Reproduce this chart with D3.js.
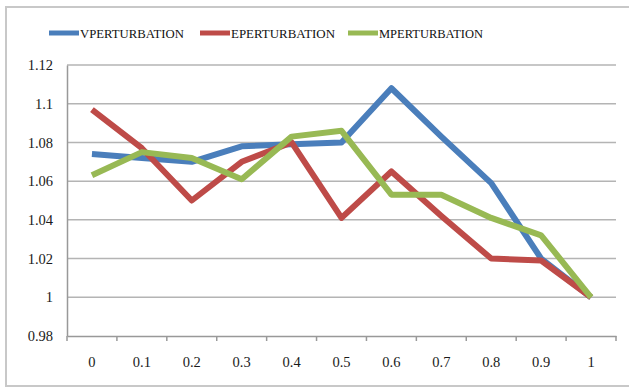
<!DOCTYPE html>
<html>
<head>
<meta charset="utf-8">
<script src="https://cdn.jsdelivr.net/npm/d3@7"></script>
<style>
  body { margin: 0; background: #fff; }
</style>
</head>
<body>
<div id="chart"></div>
<script>
const categories = ["0", "0.1", "0.2", "0.3", "0.4", "0.5", "0.6", "0.7", "0.8", "0.9", "1"];
const vPerturbation = [1.074, 1.072, 1.070, 1.078, 1.079, 1.080, 1.108, 1.083, 1.059, 1.020, 1.000];
const ePerturbation = [1.097, 1.077, 1.050, 1.070, 1.080, 1.041, 1.065, 1.042, 1.020, 1.019, 1.000];
const mPerturbation = [1.063, 1.075, 1.072, 1.061, 1.083, 1.086, 1.053, 1.053, 1.041, 1.032, 1.000];
const yTicks = [0.98, 1, 1.02, 1.04, 1.06, 1.08, 1.1, 1.12];
const seriesNames = ["VPERTURBATION", "EPERTURBATION", "MPERTURBATION"];
const colors = ["#4a7ebb", "#be4b48", "#98b954"];

(function chart(){
  const width = 629, height = 387;
  const margin = {top: 65, right: 13, bottom: 51, left: 67};
  const serif = "'Liberation Serif'";

  const svg = d3.select("#chart")
    .append("svg")
    .attr("width", width)
    .attr("height", height);

  // outer frame
  svg.append("rect")
    .attr("x", 6).attr("y", 7)
    .attr("width", width).attr("height", height - 8)
    .attr("fill", "none")
    .attr("stroke", "#c8c8c8")
    .attr("stroke-width", 2);

  const x = d3.scaleBand()
    .domain(categories)
    .range([margin.left, width - margin.right]);

  const y = d3.scaleLinear()
    .domain([0.98, 1.12])
    .range([height - margin.bottom, margin.top]);

  // gridlines
  svg.append("g")
    .selectAll("line")
    .data(yTicks.slice(1))
    .join("line")
    .attr("x1", margin.left)
    .attr("x2", width - margin.right)
    .attr("y1", d => y(d))
    .attr("y2", d => y(d))
    .attr("stroke", "#b4b4b4")
    .attr("stroke-width", 1.5);

  // y axis
  const yAxis = svg.append("g")
    .attr("transform", `translate(${margin.left},0)`)
    .call(d3.axisLeft(y).tickValues(yTicks).tickSize(0).tickPadding(14)
      .tickFormat(d => d3.format("")(+d.toFixed(2))));
  yAxis.select(".domain").attr("stroke", "#999").attr("stroke-width", 1.5);
  yAxis.selectAll("text")
    .style("font-family", serif)
    .style("font-size", "14.5px")
    .attr("fill", "#1a1a1a");

  // x axis
  const xAxis = svg.append("g")
    .attr("transform", `translate(0,${height - margin.bottom})`)
    .call(d3.axisBottom(x).tickSize(0).tickPadding(21));
  xAxis.select(".domain").attr("stroke", "#999").attr("stroke-width", 1.5);
  xAxis.selectAll("text")
    .style("font-family", serif)
    .style("font-size", "14.5px")
    .attr("fill", "#1a1a1a");

  // tick marks at category boundaries
  const edges = categories.map(c => x(c)).concat([x.range()[1]]);
  xAxis.append("g")
    .selectAll("line")
    .data(edges)
    .join("line")
    .attr("x1", d => d).attr("x2", d => d)
    .attr("y1", 0).attr("y2", 5)
    .attr("stroke", "#999")
    .attr("stroke-width", 1.5);

  const line = d3.line()
    .x((d, i) => x(categories[i]) + x.bandwidth() / 2)
    .y(d => y(d));

  const allSeries = [vPerturbation, ePerturbation, mPerturbation];

  svg.append("g")
    .attr("fill", "none")
    .attr("stroke-width", 6)
    .attr("stroke-linejoin", "round")
    .selectAll("path")
    .data(allSeries)
    .join("path")
    .attr("stroke", (d, i) => colors[i])
    .attr("d", line);

  // legend
  const legendX = [49, 200, 348];
  const legend = svg.append("g")
    .selectAll("g")
    .data(seriesNames)
    .join("g")
    .attr("transform", (d, i) => `translate(${legendX[i]},33)`);

  legend.append("line")
    .attr("x1", 0).attr("x2", 30)
    .attr("stroke", (d, i) => colors[i])
    .attr("stroke-width", 5);

  legend.append("text")
    .attr("x", 31)
    .attr("dy", "0.35em")
    .style("font-family", serif)
    .style("font-size", "13.5px")
    .attr("textLength", 104)
    .attr("lengthAdjust", "spacingAndGlyphs")
    .attr("fill", "#111")
    .text(d => d);
})();
</script>
</body>
</html>
